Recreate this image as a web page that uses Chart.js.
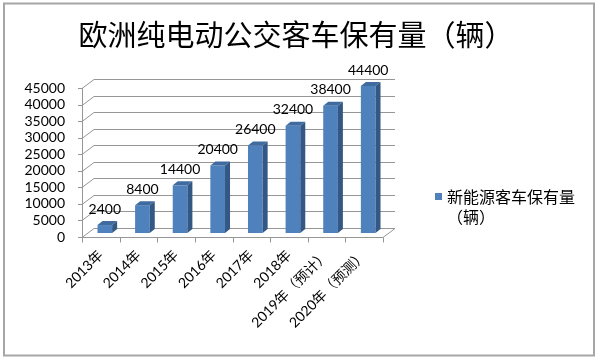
<!DOCTYPE html>
<html>
<head>
<meta charset="utf-8">
<script src="https://cdn.jsdelivr.net/npm/chart.js@4.4.0/dist/chart.umd.min.js"></script>
<style>
  html, body { margin: 0; padding: 0; background: #fff; }
  #wrap { width: 600px; height: 361px; }
</style>
</head>
<body>
<div id="wrap"><canvas id="busChart" width="600" height="361"></canvas></div>
<script>
// ====== DATA ======
const categories = ["2013年", "2014年", "2015年", "2016年", "2017年", "2018年", "2019年（预计）", "2020年（预测）"];
const busStock = [2400, 8400, 14400, 20400, 26400, 32400, 38400, 44400];
const yTicks = [0, 5000, 10000, 15000, 20000, 25000, 30000, 35000, 40000, 45000];
const titleText = "欧洲纯电动公交客车保有量（辆）";
const legendLines = ["新能源客车保有量", "（辆）"];

const BAR_BLUE = "#4f81bd";
const LATIN = "Lato, 'Noto Sans CJK SC', sans-serif";
const CJK = "'Noto Sans CJK SC', sans-serif";

// depth of the back wall and of the bars (Excel 3D look)
const WALL = { dx: 12, dy: -9 };
const PLANE = { dx: 4, dy: -4 };
const BAR_DEPTH = { dx: 5, dy: -4 };

const scene3d = {
  id: "scene3d",
  beforeDraw(chart) {
    const ctx = chart.ctx;
    ctx.save();
    ctx.fillStyle = "#fff";
    ctx.fillRect(0, 0, chart.width, chart.height);
    ctx.strokeStyle = "#a6a6a6";
    ctx.lineWidth = 2;
    ctx.strokeRect(4, 3.5, 590, 352);
    // title
    ctx.fillStyle = "#000";
    ctx.font = "29px " + CJK;
    ctx.textAlign = "center";
    ctx.textBaseline = "middle";
    ctx.fillText(titleText, 296, 35);
    ctx.restore();
  },
  beforeDatasetsDraw(chart) {
    const { ctx, chartArea: a, scales: { x, y } } = chart;
    ctx.save();
    ctx.strokeStyle = "#969696";
    ctx.lineWidth = 1;
    // back wall gridlines + diagonals from front axis
    yTicks.forEach((v) => {
      const py = Math.round(y.getPixelForValue(v)) + 0.5;
      ctx.beginPath();
      ctx.moveTo(a.left - 4, py);
      ctx.lineTo(a.left, py);
      ctx.lineTo(a.left + WALL.dx, py + WALL.dy);
      ctx.lineTo(a.right + WALL.dx, py + WALL.dy);
      ctx.stroke();
    });
    // front vertical axis
    const lx = Math.round(a.left) + 0.5;
    const by = Math.round(y.getPixelForValue(0)) + 0.5;
    ctx.beginPath();
    ctx.moveTo(lx, Math.round(y.getPixelForValue(yTicks[yTicks.length - 1])));
    ctx.lineTo(lx, by);
    // floor front edge + right diagonal
    ctx.lineTo(a.right, by);
    ctx.lineTo(a.right + WALL.dx, by + WALL.dy);
    ctx.stroke();
    // category tick marks
    const step = x.getPixelForValue(1) - x.getPixelForValue(0);
    for (let i = 0; i <= categories.length; i++) {
      const px = Math.round(x.getPixelForValue(i) - step / 2) + 0.5;
      ctx.beginPath();
      ctx.moveTo(px, by);
      ctx.lineTo(px, by + 5);
      ctx.stroke();
    }
    ctx.restore();
    // bars sit in the middle plane
    ctx.save();
    ctx.translate(PLANE.dx, PLANE.dy);
  },
  afterDatasetsDraw(chart) {
    const ctx = chart.ctx;
    const meta = chart.getDatasetMeta(0);
    meta.data.forEach((bar, i) => {
      const L = bar.x - bar.width / 2;
      const R = bar.x + bar.width / 2;
      const T = bar.y;
      const B = bar.base;
      // top face
      ctx.fillStyle = "#3f6b9f";
      ctx.beginPath();
      ctx.moveTo(L, T);
      ctx.lineTo(R, T);
      ctx.lineTo(R + BAR_DEPTH.dx, T + BAR_DEPTH.dy);
      ctx.lineTo(L + BAR_DEPTH.dx, T + BAR_DEPTH.dy);
      ctx.closePath();
      ctx.fill();
      // side face
      ctx.fillStyle = "#345886";
      ctx.beginPath();
      ctx.moveTo(R, T);
      ctx.lineTo(R + BAR_DEPTH.dx, T + BAR_DEPTH.dy);
      ctx.lineTo(R + BAR_DEPTH.dx, B + BAR_DEPTH.dy);
      ctx.lineTo(R, B);
      ctx.closePath();
      ctx.fill();
      // value label
      ctx.fillStyle = "#000";
      ctx.font = "14px " + LATIN;
      ctx.textAlign = "center";
      ctx.textBaseline = "middle";
      ctx.fillText(String(busStock[i]), bar.x, T - 16);
    });
    ctx.restore();
  },
  afterDraw(chart) {
    const ctx = chart.ctx;
    ctx.save();
    ctx.fillStyle = BAR_BLUE;
    ctx.fillRect(435, 193, 7, 7);
    ctx.fillStyle = "#000";
    ctx.font = "16px " + CJK;
    ctx.textAlign = "left";
    ctx.textBaseline = "middle";
    ctx.fillText(legendLines[0], 447, 197);
    ctx.fillText(legendLines[1], 447, 217);
    ctx.restore();
  }
};

new Chart(document.getElementById("busChart"), {
  type: "bar",
  data: {
    labels: categories,
    datasets: [
      {
        label: legendLines.join(""),
        data: busStock,
        backgroundColor: BAR_BLUE,
        categoryPercentage: 1,
        barPercentage: 0.39,
      },
    ],
  },
  options: {
    responsive: false,
    devicePixelRatio: 1,
    animation: false,
    layout: { padding: { left: 0, right: 217, top: 88, bottom: 0 } },
    plugins: {
      legend: { display: false },
      tooltip: { enabled: false },
      title: { display: false },
    },
    scales: {
      x: {
        grid: { display: false, drawTicks: false },
        border: { display: false },
        ticks: {
          autoSkip: false,
          maxRotation: 45,
          minRotation: 45,
          padding: 10,
          color: "#000",
          font: { family: LATIN, size: 14 },
        },
        afterFit(s) { s.height = 124; },
      },
      y: {
        min: yTicks[0],
        max: yTicks[yTicks.length - 1],
        grid: { display: false, drawTicks: false },
        border: { display: false },
        afterBuildTicks(s) { s.ticks = yTicks.map((v) => ({ value: v })); },
        ticks: {
          autoSkip: false,
          padding: 17,
          color: "#000",
          font: { family: LATIN, size: 14 },
          callback: (v) => String(v),
        },
        afterFit(s) { s.width = 82; },
      },
    },
  },
  plugins: [scene3d],
});
</script>
</body>
</html>
